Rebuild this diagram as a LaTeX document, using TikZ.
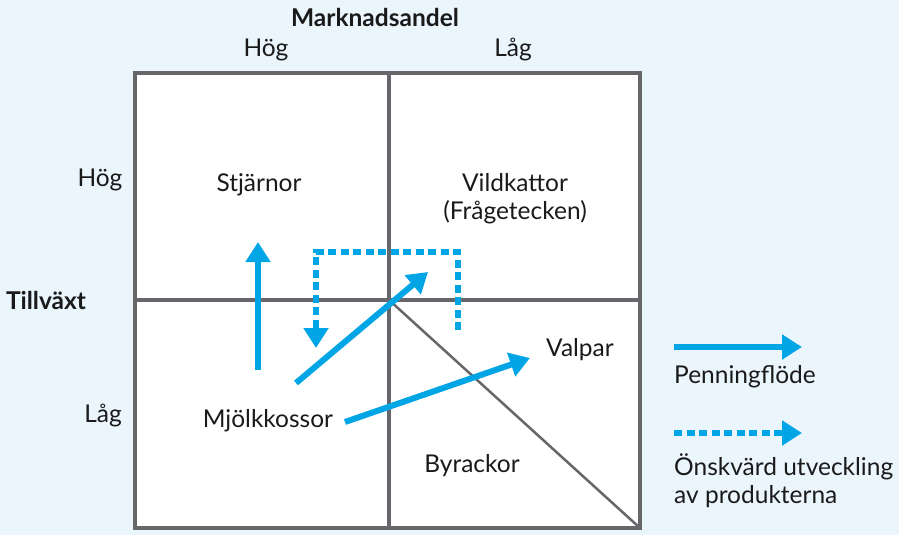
\documentclass[tikz,border=0pt]{standalone}
\usepackage{fontspec}
\setmainfont{Lato}
\usetikzlibrary{arrows.meta}
\definecolor{bg}{HTML}{EAF5FC}
\definecolor{gridc}{HTML}{66666B}
\definecolor{flow}{HTML}{00A5E6}
\definecolor{txt}{HTML}{1A1A1A}
\tikzset{
  lbl/.style={font=\fontsize{24.5}{28}\selectfont, text=txt, inner sep=0pt},
  blbl/.style={lbl, font=\fontsize{24.5}{28}\selectfont\bfseries},
  gridline/.style={draw=gridc, line width=3.5pt},
  flowarrow/.style={draw=flow, line width=6pt, -{Triangle[width=24pt,length=20pt]}},
  wisharrow/.style={draw=flow, line width=6pt, dash pattern=on 8pt off 4.5pt, -{Triangle[width=24pt,length=20pt]}},
}
\begin{document}
\begin{tikzpicture}[x=1pt,y=-1pt]
\fill[bg] (0,0) rectangle (899,535);
\useasboundingbox (0,0) rectangle (899,535);
% grid
\fill[white] (135,73) rectangle (640,528);
\draw[gridline] (135,73) rectangle (640,528);
\draw[gridline] (389,73) -- (389,528);
\draw[gridline] (135,300) -- (640,300);
\draw[draw=gridc, line width=2.5pt] (389,300) -- (640,528);
% labels
\node[blbl] (mark) at (375,17) {Marknadsandel};
\node[lbl] (hogtop) at (266,50) {Hög};
\node[lbl] (lagtop) at (513,50) {Låg};
\node[lbl] (hogleft) at (100,180) {Hög};
\node[blbl] (till) at (46,300) {Tillväxt};
\node[lbl] (lagleft) at (103,416) {Låg};
\node[lbl] (stj) at (259,185) {Stjärnor};
\node[lbl, align=center] (vild) at (515,199) {Vildkattor\\(Frågetecken)};
\node[lbl] (valp) at (580,350) {Valpar};
\node[lbl] (mjolk) at (268,421) {Mjölkkossor};
\node[lbl] (byr) at (472,466) {Byrackor};
% arrows
\coordinate (a1s) at (258,370); \coordinate (a1e) at (258,242);
\coordinate (a2s) at (296,383); \coordinate (a2e) at (428,272);
\coordinate (a3s) at (345,422); \coordinate (a3e) at (530,358);
\draw[flowarrow] (a1s) -- (a1e);
\draw[flowarrow] (a2s) -- (a2e);
\draw[flowarrow] (a3s) -- (a3e);
\coordinate (d1) at (458,330); \coordinate (d2) at (458,252);
\coordinate (d3) at (316,252); \coordinate (d4) at (316,348);
\draw[wisharrow] (d1) -- (d2) -- (d3) -- (d4);
% legend
\coordinate (l1s) at (674,347); \coordinate (l1e) at (802,347);
\coordinate (l2s) at (674,433); \coordinate (l2e) at (802,433);
\draw[flowarrow] (l1s) -- (l1e);
\draw[wisharrow] (l2s) -- (l2e);
\node[lbl, anchor=west] (penn) at (674,377) {Penningflöde};
\node[lbl, anchor=west, align=left] (onsk) at (674,481) {Önskvärd utveckling\\av produkterna};
\end{tikzpicture}
\end{document}
